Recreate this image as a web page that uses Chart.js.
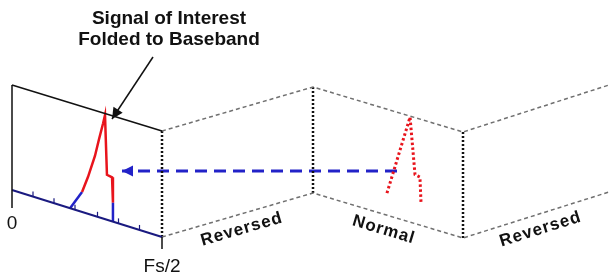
<!DOCTYPE html>
<html>
<head>
<meta charset="utf-8">
<script src="https://cdn.jsdelivr.net/npm/chart.js@4"></script>
<style>
  html, body { margin: 0; padding: 0; background: #fff; }
  #wrap { position: relative; width: 609px; height: 275px; }
</style>
</head>
<body>
<div id="wrap"><canvas id="chart"></canvas></div>
<script>
// folds of the sampled spectrum (drawing units, y grows downward)
const foldX = [12, 162, 313, 463, 609];
const foldTop = [85, 131, 87, 132, 85];
const foldBottom = [190, 237, 193, 238, 192];
const zoneLabels = ['Reversed', 'Normal', 'Reversed'];
const edgeLabels = ['0', 'Fs/2'];
const calloutLines = ['Signal of Interest', 'Folded to Baseband'];

// spectrum: frequency as fraction of the zone, amplitude above the floor
const basebandFreq = [0.387, 0.467, 0.507, 0.553, 0.58, 0.607, 0.62, 0.633, 0.667, 0.673, 0.673];
const basebandAmp  = [0, 20, 37, 60, 78, 95, 104, 45, 44, 19, 0];
const aliasFreq = [0.493, 0.647, 0.68, 0.713, 0.72];
const aliasAmp  = [22, 105, 49, 48, 23];
const axisTicks = [0.14, 0.28, 0.42, 0.57, 0.71, 0.85];

// arrows (start -> tip)
const foldArrowX = [397, 122];
const foldArrowY = [171, 171];
const calloutX = [153, 112];
const calloutY = [57, 119];

const NAVY = '#1a1a80';
const RED = '#e8141c';
const BLUE = '#2222c8';
const FONT = "'Liberation Sans', Arial, sans-serif";

function zonePoint(zone, f, a) {
    return {
        x: foldX[zone] + f * (foldX[zone + 1] - foldX[zone]),
        y: foldBottom[zone] + f * (foldBottom[zone + 1] - foldBottom[zone]) - a
    };
}

const datasets = [];

// baseband panel frame
datasets.push({ data: [{ x: foldX[0], y: foldTop[0] }, { x: foldX[1], y: foldTop[1] }], borderColor: '#111', borderWidth: 1.5 });
datasets.push({ data: [{ x: foldX[0], y: foldTop[0] }, { x: foldX[0], y: foldBottom[0] + 18 }], borderColor: '#111', borderWidth: 1.5 });
datasets.push({ data: [{ x: foldX[1], y: foldBottom[1] }, { x: foldX[1], y: foldBottom[1] + 12 }], borderColor: '#111', borderWidth: 1.5 });
datasets.push({ data: [{ x: foldX[0], y: foldBottom[0] }, { x: foldX[1], y: foldBottom[1] }], borderColor: NAVY, borderWidth: 2 });
axisTicks.forEach(t => {
    const p = zonePoint(0, t, 0);
    datasets.push({ data: [p, { x: p.x, y: p.y - 5 }], borderColor: NAVY, borderWidth: 1.2 });
});

// folded zones, dashed edges
datasets.push({
    data: foldX.slice(1).map((x, i) => ({ x, y: foldTop[i + 1] })),
    borderColor: '#707070', borderWidth: 1.5, borderDash: [4, 3]
});
datasets.push({
    data: foldX.slice(1).map((x, i) => ({ x, y: foldBottom[i + 1] })),
    borderColor: '#707070', borderWidth: 1.5, borderDash: [4, 3]
});
[1, 2, 3].forEach(i => {
    datasets.push({
        data: [{ x: foldX[i], y: foldTop[i] }, { x: foldX[i], y: foldBottom[i] }],
        borderColor: '#111', borderWidth: 2.5, borderDash: [2, 2]
    });
});

// spectra
datasets.push({
    data: basebandFreq.map((f, i) => zonePoint(0, f, basebandAmp[i])),
    borderWidth: 2.5,
    borderColor: RED,
    segment: {
        borderColor: c => (basebandAmp[c.p0DataIndex] < 21 && basebandAmp[c.p1DataIndex] < 21) ? BLUE : RED
    }
});
datasets.push({
    data: aliasFreq.map((f, i) => zonePoint(2, f, aliasAmp[i])),
    borderColor: RED, borderWidth: 3, borderDash: [2.5, 2.5]
});

// arrows
datasets.push({
    data: foldArrowX.map((x, i) => ({ x, y: foldArrowY[i] })),
    borderColor: BLUE, borderWidth: 3, borderDash: [12, 7], arrowHead: 11
});
datasets.push({
    data: calloutX.map((x, i) => ({ x, y: calloutY[i] })),
    borderColor: '#111', borderWidth: 1.5, arrowHead: 11
});

const arrowPlugin = {
    id: 'arrowHeads',
    afterDatasetsDraw(chart) {
        const ctx = chart.ctx;
        chart.data.datasets.forEach((ds, i) => {
            if (!ds.arrowHead) return;
            const pts = chart.getDatasetMeta(i).data;
            const p0 = pts[pts.length - 2], p1 = pts[pts.length - 1];
            const ang = Math.atan2(p1.y - p0.y, p1.x - p0.x);
            const L = ds.arrowHead, W = L * 0.5;
            ctx.save();
            ctx.translate(p1.x, p1.y);
            ctx.rotate(ang);
            ctx.beginPath();
            ctx.moveTo(0, 0);
            ctx.lineTo(-L, -W);
            ctx.lineTo(-L, W);
            ctx.closePath();
            ctx.fillStyle = ds.borderColor;
            ctx.fill();
            ctx.restore();
        });
    }
};

const textPlugin = {
    id: 'diagramText',
    afterDraw(chart) {
        const ctx = chart.ctx;
        const sx = v => chart.scales.x.getPixelForValue(v);
        const sy = v => chart.scales.y.getPixelForValue(v);
        ctx.save();
        ctx.fillStyle = '#111';
        ctx.textAlign = 'center';
        ctx.textBaseline = 'middle';

        ctx.font = 'bold 19px ' + FONT;
        ctx.fillText(calloutLines[0], sx(169), sy(19));
        ctx.fillText(calloutLines[1], sx(169), sy(40));

        ctx.font = '19px ' + FONT;
        ctx.fillText(edgeLabels[0], sx(foldX[0]), sy(foldBottom[0] + 34));
        ctx.fillText(edgeLabels[1], sx(foldX[1] + 0), sy(foldBottom[1] + 30));

        ctx.font = 'bold 17px ' + FONT;
        ctx.letterSpacing = '1px';
        zoneLabels.forEach((label, k) => {
            const z = k + 1;
            const x0 = sx(foldX[z]), y0 = sy(foldBottom[z]);
            const x1 = sx(foldX[z + 1]), y1 = sy(foldBottom[z + 1]);
            const ang = Math.atan2(y1 - y0, x1 - x0);
            const mx = (x0 + x1) / 2, my = (y0 + y1) / 2;
            const off = 15;
            ctx.save();
            ctx.translate(mx - Math.sin(ang) * off, my + Math.cos(ang) * off);
            ctx.rotate(ang);
            ctx.fillText(label, 0, 0);
            ctx.restore();
        });
        ctx.restore();
    }
};

new Chart(document.getElementById('chart'), {
    type: 'scatter',
    data: { datasets },
    options: {
        responsive: true,
        maintainAspectRatio: false,
        animation: false,
        events: [],
        layout: { padding: 0 },
        datasets: {
            scatter: { showLine: true, pointRadius: 0, clip: false, fill: false }
        },
        plugins: { legend: { display: false }, tooltip: { enabled: false } },
        scales: {
            x: { type: 'linear', min: 0, max: 609, display: false },
            y: { type: 'linear', min: 0, max: 275, reverse: true, display: false }
        }
    },
    plugins: [arrowPlugin, textPlugin]
});
</script>
</body>
</html>
